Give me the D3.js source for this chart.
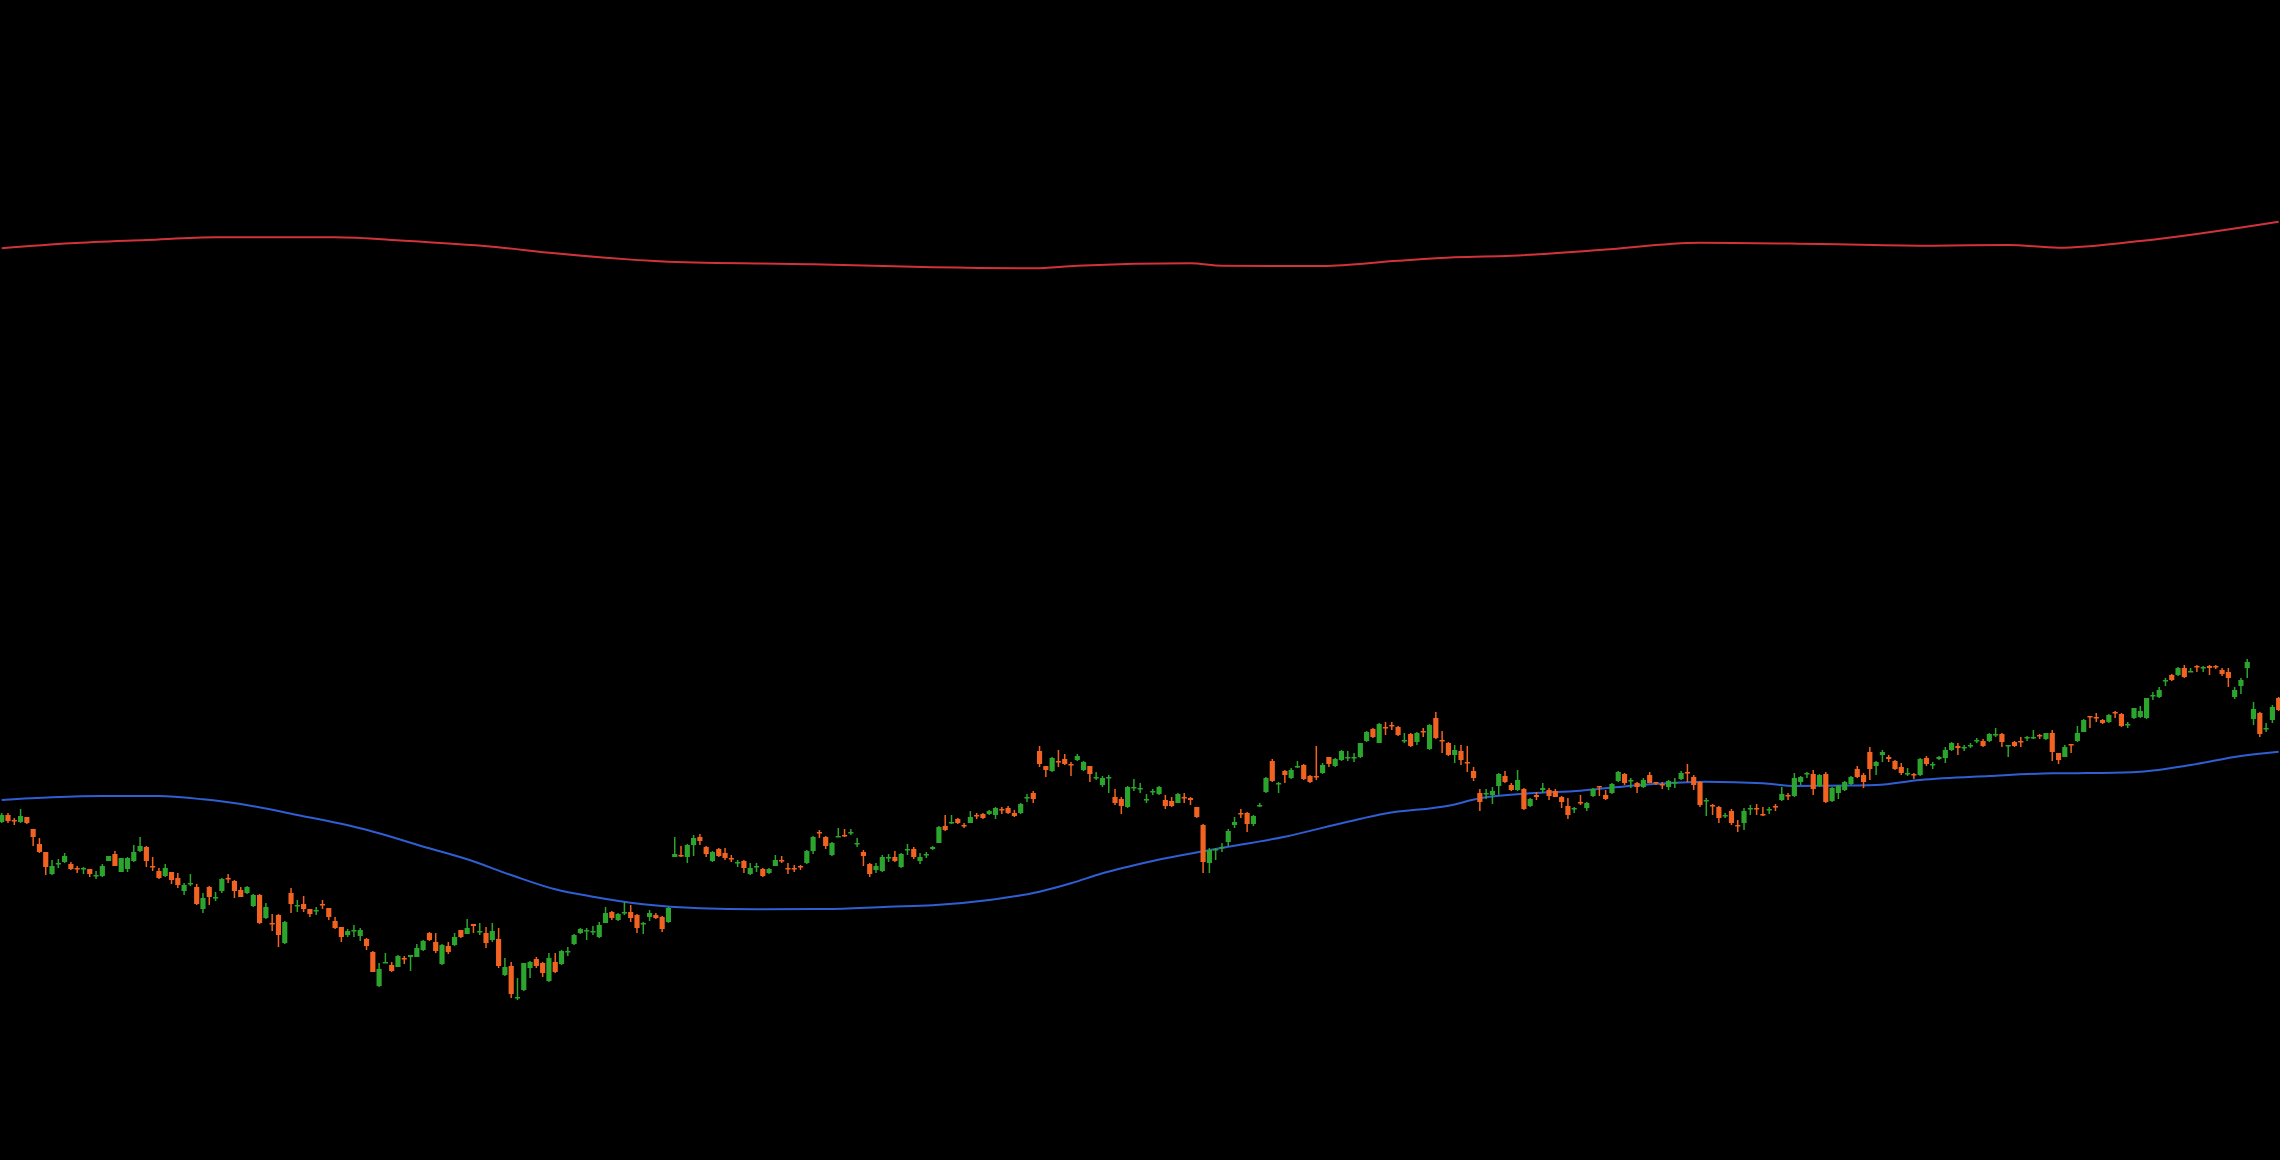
<!DOCTYPE html>
<html>
<head>
<meta charset="utf-8">
<script src="https://cdn.jsdelivr.net/npm/d3@7"></script>
<style>
html,body{margin:0;padding:0;background:#000;overflow:hidden;}
svg{display:block;}
</style>
</head>
<body>
<svg id="chart" width="2280" height="1160"></svg>
<script>
const openP = [
27.8,28.5,28.0,27.8,28.3,27.1,25.6,24.8,22.6,23.6,
23.8,23.6,23.2,23.1,23.1,22.4,22.4,23.9,24.6,22.8,
23.1,23.9,24.9,25.3,23.4,22.9,22.4,22.8,22.2,20.9,
21.6,21.3,19.1,21.3,20.2,20.9,22.2,21.9,21.0,20.7,
19.4,20.5,18.2,17.7,18.5,15.7,20.7,19.4,19.6,19.1,
18.9,19.6,19.2,17.9,17.3,16.5,16.9,16.4,16.1,14.8,
11.4,13.7,13.5,13.3,14.2,14.3,14.3,15.0,16.7,15.8,
13.6,15.4,15.5,17.0,16.6,17.6,16.8,16.7,16.0,16.1,
12.5,13.4,10.2,11.0,13.2,14.1,13.7,11.9,13.8,13.6,
14.8,15.6,16.7,16.9,16.8,16.3,17.7,18.8,18.0,18.7,
18.8,18.5,17.6,18.3,18.5,18.3,17.8,24.3,24.5,24.3,
25.5,26.3,25.3,23.9,25.1,24.7,24.2,23.7,23.9,22.6,
23.3,23.1,22.7,23.4,24.0,23.2,23.2,23.4,23.7,24.9,
26.8,26.3,24.5,26.3,26.5,26.7,25.6,24.8,23.6,23.0,
22.9,24.2,24.3,23.3,25.0,25.1,23.9,24.5,25.1,25.7,
27.4,27.7,28.1,27.5,27.7,28.5,28.6,28.6,28.5,29.1,
29.2,28.7,28.7,30.2,30.7,34.9,33.4,32.9,33.9,34.1,
33.6,34.0,33.0,33.4,32.2,31.5,32.2,30.3,30.1,29.3,
31.2,31.1,30.0,30.8,30.6,30.0,29.9,29.7,30.3,30.2,
29.3,27.5,23.7,25.0,25.2,25.8,27.5,28.7,28.7,27.6,
29.4,30.8,33.9,31.6,32.9,32.2,33.3,33.5,32.4,32.4,
32.7,34.3,33.4,34.0,34.2,34.2,34.3,35.9,37.1,35.7,
37.3,37.5,37.3,35.9,36.6,35.8,36.9,35.1,38.2,36.0,
35.7,34.5,34.9,33.8,32.9,30.7,30.6,30.5,31.4,32.4,
31.5,31.0,31.1,29.4,30.5,31.0,31.0,30.9,30.3,29.4,
29.1,29.8,29.2,30.4,31.4,30.5,30.7,31.9,32.6,31.9,
31.7,31.3,32.5,31.8,31.6,31.3,31.7,32.1,32.8,32.3,
31.8,29.9,29.5,29.3,28.4,28.9,27.5,27.7,29.1,29.2,
28.6,29.0,29.4,30.0,30.5,30.4,31.8,32.6,32.6,31.4,
32.6,29.9,30.7,31.0,31.6,33.1,32.5,34.8,33.4,34.5,
34.3,33.9,33.3,32.6,32.6,32.5,34.2,33.5,34.1,34.2,
35.0,35.4,35.2,35.4,35.9,35.9,35.9,36.5,36.6,35.4,
35.8,35.9,36.2,36.2,36.5,36.1,36.7,34.7,34.3,35.6,
35.9,36.8,38.4,38.3,38.0,37.8,38.8,38.6,37.5,38.2,
38.3,38.2,40.4,40.3,41.9,42.5,42.5,43.2,42.8,43.4,
43.2,43.4,43.4,43.0,42.8,40.3,41.4,43.2,38.1,38.7,
37.1,38.0,40.2];

const highP = [
28.7,28.7,28.2,29.1,28.3,27.1,26.2,24.8,24.0,24.1,
24.7,23.8,23.4,23.3,23.1,22.9,23.6,24.4,24.9,24.2,
24.3,25.5,26.3,25.4,24.3,23.2,23.6,22.8,22.7,21.7,
22.6,21.6,20.7,21.4,20.8,22.2,22.6,22.0,21.3,21.4,
20.6,20.6,19.7,18.6,18.6,17.9,21.2,20.0,20.4,19.1,
19.3,20.0,19.2,18.3,17.3,17.1,17.5,17.2,16.2,14.9,
13.7,14.7,13.8,14.5,14.4,14.5,15.6,16.0,16.8,16.7,
15.6,15.8,16.7,17.0,18.1,17.6,17.7,17.3,17.7,17.2,
14.2,13.8,12.2,13.7,13.9,14.3,13.8,14.7,14.7,15.0,
15.3,16.6,17.2,17.2,17.4,17.8,19.3,18.9,18.7,19.8,
19.5,18.6,17.8,19.0,18.7,18.4,19.3,26.3,25.4,25.6,
26.5,26.6,25.4,24.9,25.2,25.2,24.5,24.0,24.0,23.7,
23.7,23.2,23.2,24.5,24.4,23.7,23.5,23.5,25.0,26.4,
27.0,26.4,25.8,27.2,27.1,27.1,26.2,25.0,23.7,23.7,
24.5,24.6,24.9,24.7,25.6,25.3,24.7,24.8,25.4,27.4,
28.5,28.5,28.2,27.7,28.9,28.7,28.7,29.0,29.3,29.3,
29.4,29.0,29.7,30.6,30.9,35.4,33.4,34.3,35.0,34.6,
33.8,34.6,33.9,33.4,32.8,32.4,32.5,31.1,30.3,31.4,
32.1,31.7,30.6,31.1,31.4,30.5,30.3,30.7,30.7,30.3,
29.3,27.6,25.2,25.2,25.7,27.1,28.3,29.1,28.8,28.5,
29.7,32.3,34.1,31.8,33.0,33.2,33.9,33.6,32.5,35.4,
33.7,34.3,34.2,35.0,34.9,34.7,35.7,36.9,37.2,37.7,
37.8,37.8,37.4,36.7,36.7,36.8,37.2,37.6,38.8,36.9,
35.8,35.5,35.5,35.4,33.3,31.1,31.1,31.3,32.7,32.9,
31.7,33.0,31.2,30.2,30.8,31.7,31.2,31.1,30.4,30.2,
29.3,30.5,29.8,31.2,31.4,31.0,31.7,32.9,32.7,32.2,
31.8,32.2,32.8,31.8,31.8,32.0,32.2,32.9,33.6,32.5,
31.9,30.2,29.6,29.4,28.7,29.1,28.0,29.2,29.5,29.6,
29.3,29.3,29.6,31.3,30.7,32.7,32.4,32.8,33.0,32.6,
32.8,31.3,31.5,31.9,32.4,33.4,32.7,35.3,33.9,35.0,
34.5,34.0,33.7,33.2,32.7,34.2,34.4,33.8,34.4,35.3,
35.8,35.7,35.5,35.7,36.2,36.1,36.7,37.2,36.7,35.5,
35.9,36.3,36.4,37.0,36.6,36.7,37.0,34.7,35.5,35.6,
37.4,38.1,38.4,38.7,38.1,38.6,38.9,38.7,37.8,39.2,
39.4,40.2,40.8,41.3,42.2,42.6,43.3,43.5,43.2,43.5,
43.4,43.5,43.5,43.2,43.2,41.3,42.2,44.1,39.8,38.8,
37.7,39.5,40.3];

const lowP = [
27.7,27.7,27.5,27.7,27.6,25.4,24.7,22.5,22.5,23.2,
23.7,23.0,22.7,22.6,22.3,22.1,22.3,23.9,23.4,22.8,
22.8,23.8,24.8,23.3,22.9,22.1,22.3,21.6,21.2,20.5,
21.4,19.5,18.7,19.5,19.9,20.7,21.7,20.2,20.3,20.6,
19.3,17.6,18.1,16.9,15.3,15.6,18.7,18.8,18.8,18.3,
18.5,19.1,18.0,17.1,15.8,16.3,16.3,15.9,15.0,12.8,
11.3,13.7,12.8,13.3,13.6,12.9,14.3,14.9,15.9,14.7,
13.5,14.6,15.4,16.2,16.6,16.7,16.5,15.2,15.8,13.2,
12.4,10.2,10.0,10.9,12.2,13.2,12.3,11.8,12.7,13.5,
14.4,15.5,16.6,16.0,16.5,16.2,17.7,18.0,17.9,18.5,
17.8,16.7,16.6,17.9,18.1,16.8,17.7,24.3,24.3,23.7,
24.4,25.5,24.3,23.8,24.3,24.0,23.8,23.3,22.7,22.5,
22.8,22.3,22.6,23.4,23.7,22.6,22.8,23.0,23.6,24.6,
26.2,25.1,24.4,26.3,26.3,26.5,25.3,23.4,22.3,22.7,
22.8,23.8,23.8,23.2,24.5,24.1,23.6,24.2,25.0,25.7,
26.9,27.6,27.6,27.2,27.7,28.1,28.1,28.5,28.1,28.6,
28.6,28.3,28.6,29.8,29.7,33.3,32.3,32.8,33.3,33.5,
32.4,33.9,32.9,31.8,32.0,31.3,30.7,29.5,28.6,29.2,
30.9,30.7,29.7,30.5,30.5,29.1,29.3,29.7,29.7,29.5,
28.2,22.7,22.7,24.0,24.8,25.4,27.2,28.2,26.8,27.4,
29.3,30.7,31.8,30.7,31.7,32.1,33.2,32.0,31.7,32.0,
32.6,33.3,33.3,33.9,33.9,33.8,34.2,35.8,36.2,35.7,
36.5,37.0,36.4,35.7,35.3,35.5,36.3,35.0,36.1,34.7,
34.4,33.7,33.5,32.8,31.9,28.9,30.1,29.6,30.5,31.7,
30.9,30.9,29.0,29.3,30.0,30.7,30.0,30.3,29.2,28.1,
28.7,29.5,28.9,30.3,30.4,30.0,30.6,31.8,31.5,31.2,
30.7,31.2,31.7,31.5,31.1,31.0,31.2,32.0,31.8,31.0,
29.3,28.4,28.5,27.7,28.2,27.5,26.8,27.0,28.5,28.5,
28.4,28.6,28.9,29.9,30.0,30.3,31.5,32.2,30.5,31.3,
29.7,29.8,30.1,30.9,31.5,32.2,31.2,32.0,32.5,33.8,
33.8,33.0,32.5,32.4,32.1,32.4,33.4,33.1,34.0,33.7,
34.9,34.5,34.9,35.2,35.7,35.3,35.8,36.3,35.3,34.3,
35.3,35.3,35.9,36.1,36.1,36.0,33.9,33.6,34.3,34.7,
35.8,36.8,37.2,37.8,37.6,37.7,38.2,37.3,37.2,38.1,
38.2,38.1,40.0,40.2,41.4,41.9,42.4,42.2,42.8,42.8,
42.8,42.5,43.1,42.4,41.3,40.1,40.6,42.2,37.5,36.3,
36.8,37.7,38.9];

const closeP = [
28.5,27.9,27.9,28.4,27.7,26.3,24.8,23.3,23.4,23.7,
24.4,23.1,23.1,23.2,22.6,22.5,23.4,24.4,23.4,24.2,
24.2,24.8,25.4,23.9,23.3,22.2,23.2,22.0,21.5,21.5,
21.7,19.6,20.2,20.3,20.3,22.1,22.1,20.9,20.3,21.3,
20.5,17.7,19.3,17.6,16.5,17.8,19.6,19.5,19.1,18.6,
19.0,19.5,18.3,17.2,16.3,16.9,17.0,17.0,15.4,12.8,
13.1,13.8,12.9,14.4,14.1,14.5,15.2,15.9,16.0,14.9,
15.5,14.8,16.3,16.3,17.2,17.4,16.9,15.7,16.9,13.4,
13.3,10.6,10.3,13.7,13.8,13.4,12.7,14.2,12.8,14.9,
14.9,16.5,17.1,17.0,16.9,17.5,18.7,18.2,18.6,18.8,
18.2,17.2,17.7,18.7,18.2,17.1,19.2,24.6,24.4,25.5,
26.2,25.9,24.6,24.8,24.4,24.2,24.1,23.8,23.2,23.2,
23.4,22.4,23.1,24.0,23.9,23.1,23.1,23.3,24.9,26.3,
26.7,25.4,25.7,26.4,26.4,26.8,25.7,24.4,22.6,23.4,
24.3,24.3,23.9,24.6,25.1,24.3,24.3,24.6,25.3,27.3,
27.0,27.8,27.7,27.4,28.3,28.4,28.2,28.9,29.2,29.0,
28.7,28.4,29.6,30.3,30.1,33.6,33.0,34.2,33.8,33.6,
33.5,34.4,33.8,32.6,32.3,32.2,32.3,29.7,29.4,31.3,
31.3,31.2,30.1,30.9,31.3,29.4,29.4,30.6,30.2,30.0,
28.3,23.8,25.0,25.1,25.3,26.9,27.8,28.6,27.6,28.4,
29.5,32.2,31.9,31.7,32.5,33.0,33.4,32.1,31.8,32.3,
33.5,33.6,34.1,34.9,34.3,34.3,35.7,36.8,36.3,37.6,
37.2,37.4,36.5,36.0,35.4,36.7,36.8,37.5,36.2,35.9,
34.5,35.0,34.0,33.7,32.2,29.8,30.7,30.9,32.6,31.8,
31.0,32.0,29.1,30.1,30.3,31.2,30.4,30.3,29.8,28.5,
29.2,29.7,29.7,31.1,31.3,30.1,31.6,32.8,31.7,32.0,
31.3,32.0,31.7,31.7,31.5,31.9,31.8,32.7,32.7,31.5,
29.5,30.0,29.4,28.2,28.5,27.7,27.4,28.9,29.2,29.1,
28.5,29.1,29.3,30.6,30.4,32.2,32.3,32.7,31.1,32.5,
29.8,31.2,31.4,31.8,32.3,32.3,31.8,33.1,33.8,34.8,
34.1,33.1,32.7,32.7,32.5,34.1,33.6,33.6,34.3,35.0,
35.7,35.2,35.3,35.5,36.0,35.4,36.6,36.6,35.8,35.5,
35.4,35.8,36.3,36.3,36.4,36.7,34.8,34.0,35.3,35.5,
36.7,38.0,38.3,38.2,37.7,38.5,38.7,37.4,37.6,39.2,
38.9,40.2,40.5,41.0,42.0,42.0,43.2,42.3,42.9,43.3,
43.3,43.2,43.3,42.6,42.2,41.0,42.0,43.8,39.1,36.6,
37.2,39.3,39.0];

// long moving average (blue), sampled at bar indices
const maIndex = [0,8,16,25,32,38,47,57,68,74,81,88,94,102,111,120,131,141,148,157,165,170,175,183,193,204,214,220,230,235,243,251,257,262,271,280,285,294,298,305,316,326,334,340,348,356,362];
const maValue = [30.0,30.27,30.4,30.4,30.07,29.6,28.5,27.17,25.17,24.07,22.5,21.07,20.33,19.57,19.17,19.07,19.1,19.33,19.47,20.0,20.83,21.67,22.67,23.9,25.1,26.33,27.83,28.65,29.43,30.17,30.67,30.93,31.3,31.57,31.83,31.67,31.4,31.45,31.5,32.0,32.4,32.67,32.7,32.83,33.5,34.4,34.83];

// upper line (red), sampled at bar indices
const upIndex = [0,11,23,34,53,64,78,88,106,129,148,164,171,189,194,210,222,231,240,254,270,289,307,319,327,340,362];
const upValue = [85.17,85.67,86.0,86.27,86.27,85.93,85.33,84.67,83.83,83.57,83.27,83.17,83.43,83.67,83.43,83.4,83.93,84.27,84.43,85.0,85.73,85.6,85.43,85.5,85.23,85.9,87.83];

const W = 2280, H = 1160;
const svg = d3.select('#chart');
svg.append('rect').attr('width', W).attr('height', H).attr('fill', '#000');

const bars = openP.map((o, i) => ({i, o, h: highP[i], l: lowP[i], c: closeP[i]}));
const N = bars.length;

const step = 6.29;
const x = d3.scaleBand()
  .domain(d3.range(N))
  .range([1.7 - step / 2, 1.7 - step / 2 + N * step])
  .paddingInner(0.18)
  .paddingOuter(0.09);
const bw = x.bandwidth();
const cx = i => x(i) + bw / 2;

const y = d3.scaleLinear().domain([0, 110]).range([1100, 0]);

const UP = '#2ca52f', DOWN = '#f26322';

const g = svg.append('g');

// red line
const lineUp = d3.line().x((d, k) => cx(upIndex[k])).y(d => y(d)).curve(d3.curveMonotoneX);
g.append('path').datum(upValue).attr('d', lineUp)
  .attr('fill', 'none').attr('stroke', '#d2333b').attr('stroke-width', 2);

// blue line
const lineMa = d3.line().x((d, k) => cx(maIndex[k])).y(d => y(d)).curve(d3.curveMonotoneX);
g.append('path').datum(maValue).attr('d', lineMa)
  .attr('fill', 'none').attr('stroke', '#2f5fd3').attr('stroke-width', 2);

const cg = g.selectAll('g.c').data(bars).join('g').attr('class', 'c');
cg.append('line')
  .attr('x1', d => cx(d.i)).attr('x2', d => cx(d.i))
  .attr('y1', d => y(d.h)).attr('y2', d => y(d.l))
  .attr('stroke', d => d.c >= d.o ? UP : DOWN)
  .attr('stroke-width', 1.5);
cg.append('rect')
  .attr('x', d => x(d.i))
  .attr('width', bw)
  .attr('y', d => y(Math.max(d.o, d.c)))
  .attr('height', d => Math.max(1.5, Math.abs(y(d.o) - y(d.c))))
  .attr('fill', d => d.c >= d.o ? UP : DOWN);
</script>
</body>
</html>
